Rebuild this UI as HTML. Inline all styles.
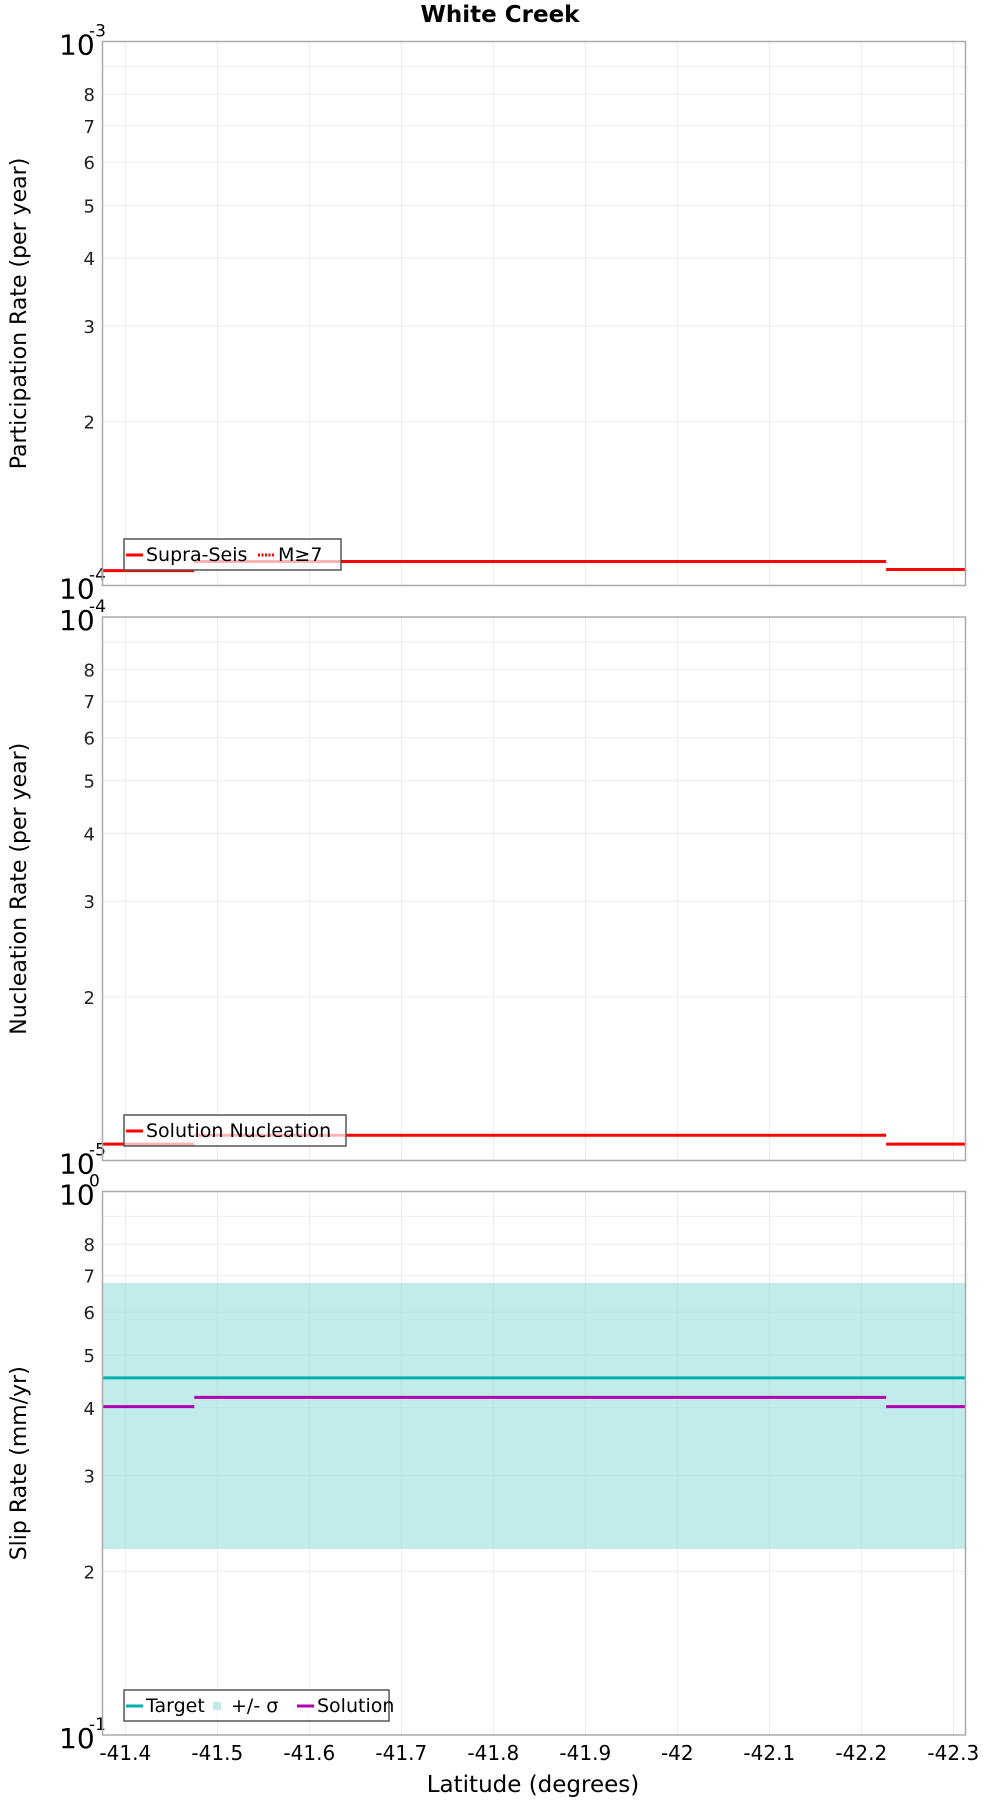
<!DOCTYPE html>
<html><head><meta charset="utf-8"><style>
html,body{margin:0;padding:0;background:#fff;}
svg{display:block;font-family:"Liberation Sans","DejaVu Sans",sans-serif;}
</style></head><body>
<svg id="chart" width="1000" height="1800" viewBox="0 0 1000 1800" xmlns="http://www.w3.org/2000/svg">
<text x="500" y="22" text-anchor="middle" font-size="23" font-weight="bold" font-family="DejaVu Sans, sans-serif">White Creek</text>
<text x="533" y="1792" text-anchor="middle" font-size="23" font-family="DejaVu Sans, sans-serif">Latitude (degrees)</text>
</svg>
<script>
const xTicks=[-41.4,-41.5,-41.6,-41.7,-41.8,-41.9,-42,-42.1,-42.2,-42.3];
const xTickLabels=["-41.4","-41.5","-41.6","-41.7","-41.8","-41.9","-42","-42.1","-42.2","-42.3"];
const segStarts=[-41.376,-41.475,-42.227];
const segEnds=[-41.475,-42.227,-42.318];
const participation=[1.065e-4,1.107e-4,1.07e-4];
const nucleation=[1.072e-5,1.113e-5,1.072e-5];
const slipSolution=[0.402,0.418,0.402];
const slipTarget=[0.454];
const slipLow=[0.22];
const slipHigh=[0.679];

const NS="http://www.w3.org/2000/svg";
const svg=document.getElementById('chart');
const L=102.5,R=965.5;
function xs(v){return 125.3+(v-(-41.4))/(-0.1)*92;}
function mk(tag,attrs,parent){const e=document.createElementNS(NS,tag);for(const k in attrs)e.setAttribute(k,attrs[k]);(parent||svg).appendChild(e);return e;}
const panels=[
 {name:'participation',top:41.5,bot:585.5,exp:-4,title:'Participation Rate (per year)'},
 {name:'nucleation',top:617,bot:1160.5,exp:-5,title:'Nucleation Rate (per year)'},
 {name:'slip',top:1191.5,bot:1735,exp:-1,title:'Slip Rate (mm/yr)'}
];
panels.forEach(p=>{
 p.ys=v=>p.bot-(Math.log10(v)-p.exp)*(p.bot-p.top);
 const g=mk('g',{});
 
 
 p.g=g;
 xTicks.forEach(t=>{const l=mk('line',{x1:xs(t),x2:xs(t),y1:p.top,y2:p.bot,stroke:'#ebebeb','stroke-width':1},g);
  });
 for(let m=2;m<=9;m++){const y=p.ys(m*Math.pow(10,p.exp));
  const l=mk('line',{x1:L,x2:R,y1:y,y2:y,stroke:'#ebebeb','stroke-width':1},g);
  
  if(m<=8){const t=mk('text',{x:95,y:y+7,'text-anchor':'end','font-size':18,fill:'#222','font-family':'DejaVu Sans, sans-serif'},g);t.textContent=m;
   }}
 [[p.top,p.exp+1],[p.bot,p.exp]].forEach(([y,e])=>{
  const t=mk('text',{x:59,y:y+13,'font-size':28,'font-family':'DejaVu Sans, sans-serif'},g);t.textContent='10';
  
  const s=mk('text',{x:89,y:y-5,'font-size':17,'font-family':'DejaVu Sans, sans-serif'},g);s.textContent=String(e);
  });
 const yt=mk('text',{x:0,y:0,'font-size':22,'text-anchor':'middle',transform:`translate(26,${(p.top+p.bot)/2}) rotate(-90)`,'font-family':'DejaVu Sans, sans-serif'},g);
 yt.textContent=p.title;
});
const sp=panels[2];
const band=mk('rect',{x:L,width:R-L,y:sp.ys(slipHigh[0]),height:sp.ys(slipLow[0])-sp.ys(slipHigh[0]),fill:'#99dddd','fill-opacity':0.6},sp.g);

const tl=mk('line',{x1:L,x2:R,y1:sp.ys(slipTarget[0]),y2:sp.ys(slipTarget[0]),stroke:'#00b0b0','stroke-width':3},sp.g);

function segs(p,vals,color,name){vals.forEach((v,i)=>{const y=p.ys(v);
 const l=mk('line',{x1:Math.max(L,xs(segStarts[i])),x2:Math.min(R,xs(segEnds[i])),y1:y,y2:y,stroke:color,'stroke-width':3},p.g);
 });}
segs(panels[0],participation,'#ff0000','supra-seis');
segs(panels[1],nucleation,'#ff0000','solution-nucleation');
segs(sp,slipSolution,'#b000b0','solution');
panels.forEach(p=>{const r=mk('rect',{x:L,y:p.top,width:R-L,height:p.bot-p.top,fill:'none',stroke:'#aaa','stroke-width':1.5},p.g);
 });
xTicks.forEach((t,i)=>{const e=mk('text',{x:xs(t),y:1760,'text-anchor':'middle','font-size':20,'font-family':'DejaVu Sans, sans-serif'});
 e.textContent=xTickLabels[i];});
function legend(p,y,w,items){const g=mk('g',{},p.g);
 mk('rect',{x:124,y:y,width:w,height:31,fill:'#fff','fill-opacity':0.7,stroke:'#555','stroke-width':1.5},g);
 let x=126;items.forEach(it=>{
  if(it.type==='rect')mk('rect',{x:x+2,y:y+12,width:8,height:8,fill:it.color,'fill-opacity':0.6},g);
  else mk('line',{x1:x,x2:x+17,y1:y+16,y2:y+16,stroke:it.color,'stroke-width':3,'stroke-dasharray':it.dash||'none'},g);
  const t=mk('text',{x:x+20,y:y+22,'font-size':19,'font-family':'DejaVu Sans, sans-serif'},g);t.textContent=it.label;
  
  x+=20+it.w;});}
legend(panels[0],539,217,[{color:'#ff0000',label:'Supra-Seis',w:112},{color:'#ff0000',label:'M≥7',dash:'2,1.5',w:60}]);
legend(panels[1],1115,222,[{color:'#ff0000',label:'Solution Nucleation',w:200}]);
legend(sp,1690,265,[{color:'#00b0b0',label:'Target',w:65},{color:'#99dddd',label:'+/- σ',type:'rect',w:66},{color:'#b000b0',label:'Solution',w:100}]);
</script>
</body></html>
